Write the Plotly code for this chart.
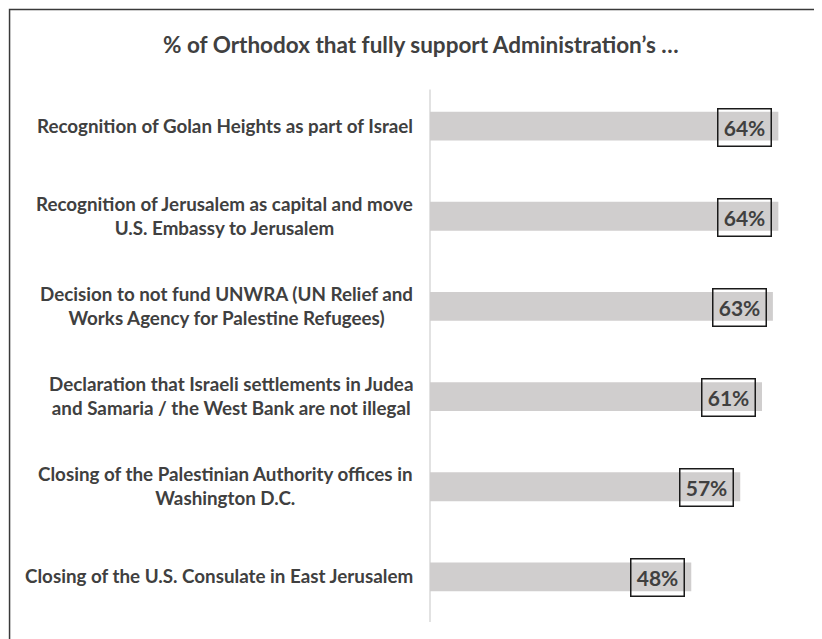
import plotly.graph_objects as go

categories = [
    "Recognition of Golan Heights as part of Israel",
    "Recognition of Jerusalem as capital and move<br>U.S. Embassy to Jerusalem",
    "Decision to not fund UNWRA (UN Relief and<br>Works Agency for Palestine Refugees)",
    "Declaration that Israeli settlements in Judea<br>and Samaria / the West Bank are not illegal",
    "Closing of the Palestinian Authority offices in<br>Washington D.C.",
    "Closing of the U.S. Consulate in East Jerusalem",
]
values = [64, 64, 63, 61, 57, 48]
value_labels = ["64%", "64%", "63%", "61%", "57%", "48%"]
title_text = "% of Orthodox that fully support Administration\u2019s \u2026"

OFF = 8  # page body margin
W, H = 822 - OFF, 639 - OFF
ML, MR, MT, MB = 430 - OFF, 10.5, 80.5 - OFF, 17
XMAX = 70
plot_w = W - ML - MR
ph = H - MT - MB

FONT = "Lato"
TXT = "#404040"

fig = go.Figure()
fig.add_trace(go.Bar(
    x=values, y=list(range(len(categories))), orientation="h",
    marker=dict(color="#d0cece", line=dict(width=0)),
    width=0.32, hoverinfo="skip", showlegend=False,
))

annotations = []
for i, (v, lab) in enumerate(zip(values, value_labels)):
    annotations.append(dict(
        x=v, y=i, xref="x", yref="y", text="<b>" + lab + "</b>",
        showarrow=False, xanchor="right", yanchor="middle", xshift=-6, yshift=-1,
        font=dict(family=FONT, size=21, color=TXT),
        bordercolor="#1a1a1a", borderwidth=1.5, borderpad=2,
        width=48, height=32, align="center",
    ))
for i, c in enumerate(categories):
    annotations.append(dict(
        x=-15 / plot_w, y=i, xref="paper", yref="y", text="<b>" + c + "</b>",
        showarrow=False, xanchor="right", yanchor="middle", align="center",
        yshift=1,
        font=dict(family=FONT, size=18.8, color=TXT),
    ))
annotations.append(dict(
    x=(421 - 430) / plot_w, y=1 + (80.5 - 44) / ph, xref="paper", yref="paper",
    text="<b>" + title_text + "</b>", showarrow=False,
    xanchor="center", yanchor="middle",
    font=dict(family=FONT, size=22.5, color=TXT),
))

fig.update_layout(
    width=W, height=H,
    margin=dict(l=ML, r=MR, t=MT, b=MB, pad=0),
    paper_bgcolor="white", plot_bgcolor="white",
    xaxis=dict(range=[0, XMAX], visible=False, fixedrange=True),
    yaxis=dict(range=[len(categories) - 0.5, -0.5], showticklabels=False,
               showgrid=False, zeroline=False, showline=False, ticks=""),
    annotations=annotations,
    shapes=[
        dict(type="line", xref="paper", yref="paper", x0=0, x1=0,
             y0=0, y1=1 + (80.5 - 89) / ph,
             line=dict(color="#d9d9d9", width=1.5), layer="below"),
        dict(type="rect", xref="paper", yref="paper",
             x0=(9 - 430) / plot_w, x1=(840 - 430) / plot_w,
             y0=-(40) / ph, y1=1 + (80.5 - 9) / ph,
             line=dict(color="#3a3a3a", width=1.5), fillcolor="rgba(0,0,0,0)"),
    ],
)

fig.write_html("out.html")
